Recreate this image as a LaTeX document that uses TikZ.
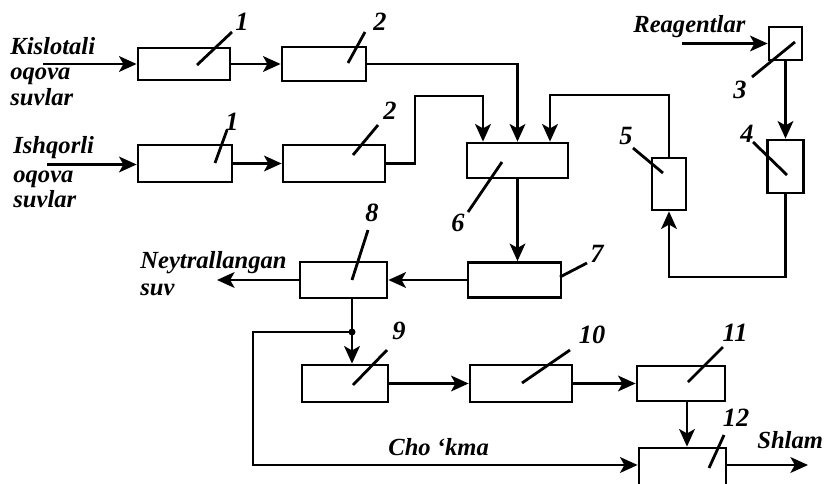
\documentclass[tikz,border=0pt]{standalone}
\usepackage{fontspec}
\setmainfont{Liberation Serif}
\usetikzlibrary{arrows.meta}

\begin{document}
\begin{tikzpicture}[
    font=\fontsize{14}{14.5}\selectfont\bfseries\itshape,
    blk/.style={draw, line width=1.6pt, inner sep=0pt},
    arr/.style={line width=1.2pt, -{Stealth[length=10pt, width=9pt, inset=2.5pt]}},
    lnk/.style={line width=1.2pt},
    lead/.style={line width=1.6pt},
    lbl/.style={inner sep=0pt, align=left},
    num/.style={inner sep=0pt, font=\fontsize{15}{16}\selectfont\bfseries\itshape},
]
\useasboundingbox (0,0) rectangle (16.5,-9.66);

% --- apparatus boxes ---
\node[blk, minimum width=1.84cm, minimum height=0.64cm] (b1a) at (3.68,-1.28) {};
\node[blk, minimum width=1.68cm, minimum height=0.68cm] (b2a) at (6.48,-1.28) {};
\node[blk, minimum width=1.88cm, minimum height=0.74cm] (b1b) at (3.70,-3.27) {};
\node[blk, minimum width=2.04cm, minimum height=0.74cm] (b2b) at (6.68,-3.27) {};
\node[blk, minimum width=0.66cm, minimum height=0.66cm] (b3) at (15.71,-0.87) {};
\node[blk, minimum width=0.72cm, minimum height=1.06cm] (b4) at (15.71,-3.33) {};
\node[blk, minimum width=0.68cm, minimum height=1.04cm] (b5) at (13.38,-3.68) {};
\node[blk, minimum width=2.02cm, minimum height=0.70cm] (b6) at (10.35,-3.21) {};
\node[blk, minimum width=1.86cm, minimum height=0.70cm] (b7) at (10.29,-5.60) {};
\node[blk, minimum width=1.74cm, minimum height=0.72cm] (b8) at (6.87,-5.60) {};
\node[blk, minimum width=1.72cm, minimum height=0.74cm] (b9) at (6.90,-7.67) {};
\node[blk, minimum width=2.04cm, minimum height=0.74cm] (b10) at (10.42,-7.67) {};
\node[blk, minimum width=1.76cm, minimum height=0.70cm] (b11) at (13.62,-7.67) {};
\node[blk, minimum width=1.74cm, minimum height=1.00cm] (b12) at (13.65,-9.46) {};

% --- free ends and bends ---
\coordinate (inK) at (0.86,-1.28);
\coordinate (inI) at (0.94,-3.29);
\coordinate (inR) at (13.64,-0.87);
\coordinate (j1) at (8.30,-1.92);
\coordinate (j2) at (11.00,-1.90);
\coordinate (j3) at (13.38,-5.54);
\coordinate (outN) at (4.34,-5.60);
\coordinate (dot) at (7.04,-6.64);
\coordinate (j4) at (5.06,-6.64);
\coordinate (j5) at (5.06,-9.30);
\coordinate (outS) at (16.16,-9.30);

% --- flows ---
\draw[arr] (inK) -- (b1a);
\draw[arr] (b1a) -- (b2a);
\draw[arr] (inI) -- (inI -| b1b.west);
\draw[arr] (b1b) -- (b2b);
\draw[arr] (b2a.east) -| (b6.north);
\draw[arr] (b2b.east) -| (j1) -| ([xshift=-0.69cm]b6.north);
\draw[arr] (b5.north) |- (j2) -- (j2 |- b6.north);
\draw[arr] (inR) -- (b3);
\draw[arr] (b3) -- (b4);
\draw[arr] (b4.south) |- (j3) -- (b5.south);
\draw[arr] (b6.south) -- (b6.south |- b7.north);
\draw[arr] (b7) -- (b8);
\draw[arr] (b8) -- (outN);
\draw[lnk] (b8.south -| dot) -- (dot);
\fill (dot) circle (0.07);
\draw[arr] (dot) -- (dot |- b9.north);
\draw[arr] (dot) -- (j4) -- (j5) -- (j5 -| b12.west);
\draw[arr] (b9) -- (b10);
\draw[arr] (b10) -- (b11);
\draw[arr] ([xshift=0.12cm]b11.south) -- ([xshift=0.12cm]b11.south |- b12.north);
\draw[arr] (j5 -| b12.east) -- (outS);

% --- texts ---
\node[lbl, anchor=north west] (tK) at (0.20,-0.74) {Kislotali\\oqova\\suvlar};
\node[lbl, anchor=north west] (tI) at (0.26,-2.73) {Ishqorli\\[1.5pt]oqova\\suvlar};
\node[lbl, anchor=base west] (tR) at (12.66,-0.64) {Reagentlar};
\node[lbl, anchor=north west] (tN) at (2.80,-5.02) {Neytrallangan\\[1pt]suv};
\node[lbl, anchor=base west] (tC) at (7.76,-9.10) {Cho ‘kma};
\node[lbl, anchor=base west] (tS) at (15.14,-8.96) {Shlam};

% --- position numbers ---
\node[num] (n1a) at (4.84,-0.44) {1};
\node[num] (n2a) at (7.60,-0.44) {2};
\node[num] (n1b) at (4.64,-2.44) {1};
\node[num] (n2b) at (7.80,-2.22) {2};
\node[num] (n3) at (14.80,-1.80) {3};
\node[num] (n4) at (14.94,-2.68) {4};
\node[num] (n5) at (12.52,-2.72) {5};
\node[num] (n6) at (9.16,-4.46) {6};
\node[num] (n7) at (11.94,-5.08) {7};
\node[num] (n8) at (7.44,-4.26) {8};
\node[num] (n9) at (7.98,-6.62) {9};
\node[num] (n10) at (11.84,-6.70) {10};
\node[num] (n11) at (14.70,-6.66) {11};
\node[num] (n12) at (14.72,-8.36) {12};

% leader strokes
\foreach \xa/\ya/\xb/\yb in {3.94/-1.30/4.64/-0.64, 6.96/-1.26/7.30/-0.64,
    4.30/-3.26/4.54/-2.60, 7.06/-3.10/7.56/-2.50, 15.04/-1.54/15.90/-0.84,
    15.06/-2.84/15.74/-3.50, 12.66/-2.96/13.26/-3.46, 9.36/-4.24/10.04/-3.24,
    11.20/-5.54/11.74/-5.26, 7.04/-5.60/7.36/-4.60, 7.06/-7.70/7.74/-7.00,
    10.44/-7.66/11.40/-7.00, 13.76/-7.64/14.46/-6.94, 14.18/-9.36/14.48/-8.70}
    \draw[lead] (\xa,\ya) -- (\xb,\yb);

\end{tikzpicture}
\end{document}
